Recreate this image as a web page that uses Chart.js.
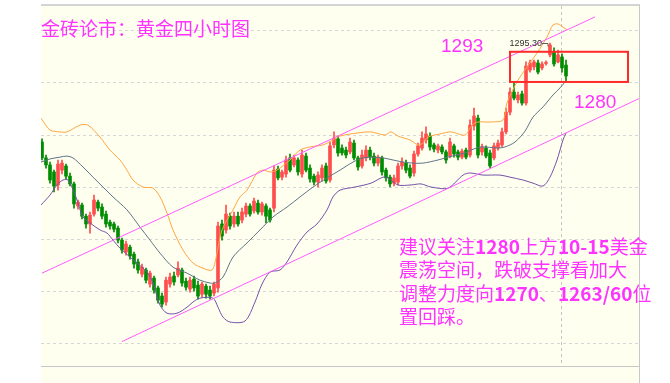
<!DOCTYPE html>
<html>
<head>
<meta charset="utf-8">
<script src="https://cdn.jsdelivr.net/npm/chart.js@4.4.1/dist/chart.umd.min.js"></script>
<style>
  body { margin: 0; background: #fff; }
  #wrap { position: relative; width: 670px; height: 383px; overflow: hidden; }
  #goldChart { position: absolute; left: 0; top: 0; }
  .note { position: absolute; color: #ff33ff; white-space: nowrap; }
  .cjk { font-family: "Noto Sans CJK SC", sans-serif; font-size: 19px; line-height: 19px; }
  .num { font-family: "Liberation Sans", Arial, sans-serif; font-size: 19px; line-height: 19px; }
  .para { line-height: 23.3px; }
  .para b { font-weight: bold; }
</style>
</head>
<body>
<div id="wrap">
  <canvas id="goldChart" width="670" height="383"></canvas>
  <div class="note cjk" style="left:41px; top:18px;">金砖论市：黄金四小时图</div>
  <div class="note num" style="left:441px; top:36px;">1293</div>
  <div class="note num" style="left:574px; top:92px;">1280</div>
  <div class="note cjk para" style="left:399px; top:234px;">建议关注<b>1280</b>上方<b>10-15</b>美金<br>震荡空间，跌破支撑看加大<br>调整力度向<b>1270</b>、<b>1263/60</b>位<br>置回踩。</div>
</div>
<script>
// 4-hour gold candles (USD/oz)
const opens = [
  1257.3, 1251.2, 1248.5, 1245.8, 1240.8, 1246.5, 1248.1, 1244.2, 1241.2, 1232.7,
  1233.1, 1228.8, 1225.8, 1229.6, 1234.2, 1232.3, 1229.6, 1226.5, 1225.8, 1224.2,
  1219.6, 1215.0, 1216.9, 1214.2, 1211.2, 1206.5, 1208.1, 1202.7, 1205.0, 1201.2,
  1198.1, 1195.8, 1202.7, 1205.8, 1206.2, 1208.1, 1203.8, 1200.8, 1204.6, 1202.3,
  1198.8, 1201.9, 1200.4, 1199.2, 1201.2, 1225.8, 1223.5, 1228.8, 1225.8, 1228.8,
  1227.3, 1229.6, 1232.7, 1230.8, 1233.8, 1230.4, 1232.7, 1231.2, 1231.9, 1246.9,
  1243.8, 1245.0, 1251.2, 1248.5, 1250.4, 1245.0, 1251.9, 1247.3, 1244.2, 1241.9,
  1243.5, 1248.1, 1242.7, 1256.2, 1258.5, 1255.0, 1254.2, 1253.5, 1256.9, 1251.2,
  1248.1, 1251.2, 1254.2, 1251.9, 1249.2, 1251.2, 1246.5, 1243.8, 1241.5, 1241.9,
  1248.1, 1249.2, 1247.3, 1245.4, 1252.7, 1255.0, 1258.1, 1259.6, 1256.2, 1254.2,
  1255.4, 1253.5, 1251.9, 1255.8, 1253.5, 1251.5, 1254.2, 1252.3, 1263.5, 1266.5,
  1253.5, 1255.0, 1253.1, 1251.2, 1255.0, 1256.2, 1261.2, 1268.8, 1276.5, 1273.5,
  1275.8, 1272.3, 1285.0, 1286.2, 1287.7, 1285.8, 1287.5, 1290.8, 1291.9, 1288.1,
  1290.0, 1286.9
];
const highs = [
  1258.5, 1252.3, 1249.6, 1246.5, 1250.4, 1250.4, 1248.8, 1245.4, 1241.9, 1235.0,
  1233.8, 1229.6, 1230.4, 1236.9, 1235.0, 1233.5, 1230.8, 1227.3, 1226.5, 1225.0,
  1220.4, 1219.2, 1217.7, 1215.0, 1212.3, 1210.4, 1208.8, 1207.7, 1205.8, 1201.9,
  1199.2, 1205.4, 1206.9, 1207.3, 1211.2, 1208.8, 1205.0, 1205.4, 1205.8, 1203.8,
  1203.5, 1202.7, 1201.9, 1203.5, 1226.5, 1227.3, 1233.1, 1230.0, 1230.4, 1230.4,
  1231.9, 1233.8, 1233.5, 1235.8, 1235.0, 1234.2, 1233.5, 1231.9, 1248.1, 1248.1,
  1246.5, 1251.9, 1252.7, 1252.3, 1251.2, 1254.2, 1253.1, 1248.5, 1245.0, 1245.8,
  1248.5, 1249.2, 1257.3, 1261.2, 1259.6, 1256.2, 1255.4, 1258.8, 1258.1, 1251.9,
  1254.2, 1255.8, 1255.4, 1253.1, 1252.3, 1251.9, 1247.3, 1244.6, 1244.6, 1249.2,
  1251.2, 1250.4, 1248.5, 1253.8, 1256.9, 1261.2, 1263.1, 1260.8, 1256.9, 1256.5,
  1256.2, 1254.2, 1258.8, 1256.5, 1254.2, 1254.6, 1255.0, 1265.8, 1270.4, 1267.7,
  1256.5, 1255.8, 1254.2, 1256.9, 1258.1, 1262.7, 1270.4, 1278.1, 1280.0, 1276.5,
  1276.9, 1288.1, 1288.8, 1288.8, 1288.8, 1288.1, 1288.5, 1295.3, 1293.5, 1292.7,
  1291.2, 1288.8
];
const lows = [
  1250.4, 1247.3, 1241.5, 1238.1, 1238.8, 1245.0, 1243.1, 1240.4, 1231.9, 1231.5,
  1227.7, 1224.2, 1222.3, 1228.8, 1230.8, 1227.7, 1224.6, 1223.8, 1222.7, 1218.5,
  1214.6, 1213.8, 1212.3, 1208.8, 1206.9, 1205.4, 1203.1, 1201.5, 1199.2, 1195.4,
  1193.8, 1194.6, 1201.5, 1202.3, 1205.4, 1201.9, 1200.4, 1199.6, 1200.0, 1196.9,
  1197.7, 1197.3, 1196.9, 1198.1, 1199.6, 1219.6, 1222.3, 1223.8, 1224.6, 1225.0,
  1226.2, 1228.5, 1228.8, 1230.0, 1229.6, 1229.2, 1226.2, 1226.5, 1230.4, 1242.7,
  1242.7, 1243.8, 1245.8, 1247.7, 1244.6, 1243.8, 1245.8, 1241.9, 1240.8, 1240.0,
  1242.3, 1241.5, 1241.9, 1255.0, 1251.9, 1252.3, 1251.2, 1252.7, 1250.4, 1246.5,
  1247.3, 1250.0, 1250.4, 1248.1, 1248.1, 1244.6, 1242.3, 1240.0, 1240.4, 1240.8,
  1246.9, 1245.4, 1243.5, 1244.2, 1251.9, 1254.2, 1256.9, 1254.2, 1253.5, 1253.1,
  1252.7, 1249.2, 1251.2, 1251.5, 1250.4, 1250.8, 1250.8, 1251.5, 1261.9, 1251.2,
  1252.3, 1251.2, 1247.3, 1250.4, 1254.2, 1255.4, 1260.4, 1267.7, 1273.5, 1272.3,
  1271.5, 1271.5, 1284.2, 1285.0, 1283.5, 1285.0, 1286.9, 1290.0, 1286.5, 1287.7,
  1284.2, 1280.4
];
const closes = [
  1251.2, 1248.5, 1242.7, 1240.4, 1248.8, 1249.2, 1244.2, 1241.2, 1233.5, 1234.2,
  1228.8, 1225.8, 1229.2, 1235.0, 1231.9, 1228.8, 1225.8, 1225.0, 1223.8, 1219.6,
  1215.8, 1218.1, 1213.5, 1210.4, 1208.1, 1209.2, 1204.2, 1206.9, 1200.4, 1196.5,
  1195.0, 1204.2, 1205.4, 1203.5, 1208.8, 1203.1, 1201.5, 1204.2, 1201.2, 1198.1,
  1202.7, 1198.8, 1198.1, 1202.7, 1225.0, 1221.2, 1229.6, 1225.0, 1228.8, 1225.8,
  1230.4, 1232.7, 1229.6, 1234.6, 1230.4, 1233.5, 1228.8, 1227.3, 1246.5, 1243.5,
  1245.8, 1250.4, 1246.5, 1251.2, 1245.8, 1252.3, 1246.5, 1243.1, 1241.9, 1244.6,
  1247.3, 1242.3, 1255.8, 1258.8, 1253.1, 1253.1, 1252.3, 1257.3, 1251.2, 1247.7,
  1252.3, 1254.2, 1251.5, 1249.2, 1251.5, 1245.8, 1243.5, 1241.2, 1243.5, 1248.1,
  1249.6, 1246.5, 1244.2, 1252.7, 1255.8, 1258.8, 1260.4, 1255.4, 1254.6, 1255.8,
  1253.5, 1250.4, 1257.3, 1252.7, 1251.5, 1253.8, 1251.5, 1263.8, 1267.3, 1252.3,
  1255.4, 1251.9, 1248.1, 1255.8, 1256.9, 1261.2, 1268.8, 1276.5, 1274.2, 1275.4,
  1272.3, 1286.5, 1287.7, 1288.1, 1284.2, 1287.3, 1287.7, 1294.6, 1287.3, 1290.8,
  1285.8, 1282.7
];

// Bollinger bands, sampled where the curves bend (x = candle index)
const bollUpper = [
  [-0.25, 1266.5], [2, 1261.9], [4.5, 1261.2], [6.25, 1261.2], [9.5, 1263.8], [11.5, 1263.8],
  [14.5, 1259.2], [17, 1254.2], [19.5, 1250.4], [21.25, 1246.5], [22.75, 1242.7], [25.25, 1240.0],
  [27.75, 1239.6], [29.5, 1236.2], [31.25, 1230.0], [32.75, 1223.5], [35.25, 1215.8], [37.75, 1210.8],
  [40.25, 1208.8], [42.5, 1208.1], [43.5, 1212.7], [45, 1223.5], [47.75, 1231.2], [49.5, 1236.2],
  [51.25, 1238.8], [53.75, 1245.4], [55.25, 1246.5], [57, 1245.8], [58.75, 1246.5], [62, 1250.4],
  [64.5, 1254.2], [67, 1255.4], [70.25, 1256.2], [72.75, 1258.1], [74.5, 1259.6], [79, 1260.8],
  [82.25, 1261.2], [85.75, 1260.0], [87.25, 1261.2], [89, 1259.6], [92, 1258.1], [94, 1256.2],
  [95.25, 1256.9], [96.5, 1259.2], [99.5, 1260.4], [102.25, 1261.2], [105.75, 1260.0], [107.5, 1263.8],
  [109, 1265.0], [112, 1265.0], [115.25, 1265.8], [116.25, 1272.3], [118.75, 1280.4], [121.25, 1286.2],
  [123.75, 1291.5], [126.25, 1297.7], [127.75, 1302.3], [129, 1302.7], [130.25, 1301.5], [131.25, 1300.4]
];
const bollMiddle = [
  [-0.25, 1249.6], [2, 1250.8], [4.5, 1251.5], [6.25, 1251.9], [7.75, 1251.2], [10.25, 1247.7],
  [12.75, 1243.8], [15.25, 1240.0], [17.75, 1236.2], [21.25, 1231.2], [24.5, 1224.6], [27, 1219.6],
  [29.5, 1214.6], [32.75, 1209.2], [36.25, 1206.9], [39.5, 1204.2], [42, 1203.1], [43.25, 1203.1],
  [45.25, 1205.4], [47.75, 1213.1], [51.25, 1218.5], [54.5, 1223.5], [57.75, 1228.5], [61.25, 1232.3],
  [64.5, 1236.2], [67.75, 1240.0], [71.25, 1243.5], [74.5, 1246.5], [77.75, 1249.6], [80.25, 1251.2],
  [82.75, 1251.5], [85.25, 1251.2], [87.75, 1250.4], [90.25, 1249.6], [92.75, 1249.2], [95.25, 1249.2],
  [99, 1250.4], [101.5, 1251.5], [105.75, 1253.1], [107.25, 1254.2], [109.75, 1255.4], [114, 1255.0],
  [115.75, 1255.4], [118.25, 1257.3], [120.75, 1261.5], [122.75, 1266.9], [125.25, 1270.8], [127.75, 1275.4],
  [129.5, 1278.1], [130.75, 1280.4]
];
const bollLower = [
  [-0.25, 1233.1], [2, 1236.9], [3.75, 1240.8], [5.25, 1242.7], [6.5, 1242.7], [7.5, 1240.0],
  [8.75, 1235.0], [10.25, 1228.5], [12, 1226.2], [14.5, 1223.5], [16.25, 1222.3], [17.75, 1219.6],
  [19.5, 1216.5], [22, 1213.1], [23.75, 1210.8], [26.25, 1207.3], [27.75, 1203.1], [29.5, 1194.6],
  [31.25, 1191.5], [33.75, 1191.5], [36.25, 1193.8], [37.75, 1195.8], [39.5, 1197.3], [42.75, 1197.3],
  [44, 1193.8], [45.25, 1190.0], [47, 1188.1], [50.75, 1188.5], [53.25, 1195.8], [55, 1202.7],
  [57, 1207.3], [59.5, 1208.1], [61.25, 1211.2], [63.75, 1217.7], [66.25, 1222.7], [68.75, 1225.8],
  [71.25, 1231.2], [72.75, 1236.2], [74.5, 1238.8], [78.25, 1240.0], [82.25, 1241.5], [85.25, 1243.8],
  [86.5, 1243.5], [89, 1240.8], [92.25, 1240.8], [94.75, 1241.2], [97.25, 1240.0], [101.5, 1239.6],
  [105.25, 1244.6], [107, 1245.4], [110.25, 1244.6], [114.5, 1244.6], [117, 1243.8], [120.25, 1242.7],
  [122.75, 1241.5], [125.25, 1240.4], [127, 1243.8], [128.75, 1250.4], [130.25, 1258.1], [131, 1260.8]
];

// hand-drawn rising channel (two parallel lines)
const channelUpper = [[0, 1206.9], [138.25, 1305.4]];
const channelLower = [[20, 1180.6], [149.25, 1274.0]];

// marked box between 1280 and 1293
const boxIndex = [117, 146.5];
const boxPrice = [1280.4, 1292.0];

// price grid and the cursor column
const gridPrices = [1180, 1200, 1220, 1240, 1260, 1280, 1300];
const cursorIndex = 129.75;

const UP = '#ff4d4d';
const DOWN = '#008c00';

function toPoints(list) {
    return list.map(p => ({ x: p[0], y: p[1] }));
}

function candleColor(ctx) {
    const i = ctx.dataIndex;
    return closes[i] >= opens[i] ? UP : DOWN;
}

// cream plot panel with grey frame
const panelPlugin = {
    id: 'panel',
    beforeDraw(chart) {
        const { ctx, chartArea: a, width, height } = chart;
        ctx.save();
        ctx.fillStyle = '#ffffff';
        ctx.fillRect(0, 0, width, height);
        ctx.fillStyle = '#fffff0';
        ctx.fillRect(a.left, a.top - 1, a.right - a.left + 1, height - a.top + 1);
        ctx.strokeStyle = '#d4d4d4';
        ctx.lineWidth = 2;
        ctx.beginPath();
        ctx.moveTo(a.left, a.top - 1);
        ctx.lineTo(a.right + 1, a.top - 1);
        ctx.stroke();
        ctx.lineWidth = 1;
        ctx.strokeStyle = '#c8c8c8';
        ctx.beginPath();
        ctx.moveTo(a.left, a.bottom + 0.5);
        ctx.lineTo(a.right, a.bottom + 0.5);
        ctx.moveTo(a.right + 0.5, a.top - 1);
        ctx.lineTo(a.right + 0.5, height);
        ctx.stroke();
        ctx.restore();
    }
};

// red box and the high-price marker
const markPlugin = {
    id: 'marks',
    afterDatasetsDraw(chart) {
        const { ctx, scales: { x, y } } = chart;
        ctx.save();
        const x0 = x.getPixelForValue(boxIndex[0]);
        const x1 = x.getPixelForValue(boxIndex[1]);
        const y0 = y.getPixelForValue(boxPrice[1]);
        const y1 = y.getPixelForValue(boxPrice[0]);
        ctx.strokeStyle = '#ff2a2a';
        ctx.lineWidth = 2;
        ctx.strokeRect(x0, y0, x1 - x0, y1 - y0);

        let top = 0;
        highs.forEach((h, i) => { if (h > highs[top]) top = i; });
        const px = x.getPixelForValue(top);
        const py = Math.round(y.getPixelForValue(highs[top])) + 0.5;
        ctx.font = '9px "Liberation Sans", Arial, sans-serif';
        ctx.fillStyle = '#303030';
        ctx.textAlign = 'right';
        ctx.textBaseline = 'middle';
        ctx.fillText(highs[top].toFixed(2), px - 8, py);
        ctx.strokeStyle = '#606060';
        ctx.lineWidth = 1;
        ctx.beginPath();
        ctx.moveTo(px - 8, py);
        ctx.lineTo(px - 2, py);
        ctx.lineTo(px - 2, py + 3);
        ctx.stroke();
        ctx.restore();
    }
};

const lineStyle = (color) => ({
    type: 'line',
    borderColor: color,
    borderWidth: 1,
    pointRadius: 0,
    fill: false
});

new Chart(document.getElementById('goldChart'), {
    type: 'bar',
    data: {
        datasets: [
            Object.assign(lineStyle('#ff5cff'), { data: toPoints(channelUpper) }),
            Object.assign(lineStyle('#ff5cff'), { data: toPoints(channelLower) }),
            Object.assign(lineStyle('#ffa640'), { data: toPoints(bollUpper), tension: 0.3 }),
            Object.assign(lineStyle('#5f7488'), { data: toPoints(bollMiddle), tension: 0.3 }),
            Object.assign(lineStyle('#7452a8'), { data: toPoints(bollLower), tension: 0.3 }),
            {
                type: 'bar',
                data: opens.map((o, i) => ({ x: i, y: [o, closes[i]] })),
                backgroundColor: candleColor,
                barThickness: 3,
                minBarLength: 1,
                grouped: false
            },
            {
                type: 'bar',
                data: lows.map((l, i) => ({ x: i, y: [l, highs[i]] })),
                backgroundColor: candleColor,
                barThickness: 1,
                grouped: false
            }
        ]
    },
    options: {
        responsive: false,
        animation: false,
        events: [],
        layout: { padding: { left: 41, right: 31, top: 6, bottom: 17 } },
        plugins: { legend: { display: false }, tooltip: { enabled: false } },
        scales: {
            x: {
                type: 'linear',
                min: -0.25,
                max: 149.25,
                offset: false,
                ticks: { display: false },
                afterBuildTicks: (scale) => { scale.ticks = [{ value: cursorIndex }]; },
                grid: { color: '#c4c4c4', drawTicks: false, offset: false },
                border: { display: false, dash: [3, 3] }
            },
            y: {
                min: 1171.2,
                max: 1309.6,
                ticks: { display: false },
                afterBuildTicks: (scale) => { scale.ticks = gridPrices.map(v => ({ value: v })); },
                grid: { color: '#d6d6d6', drawTicks: false },
                border: { display: false, dash: [3, 3] }
            }
        }
    },
    plugins: [panelPlugin, markPlugin]
});
</script>
</body>
</html>
